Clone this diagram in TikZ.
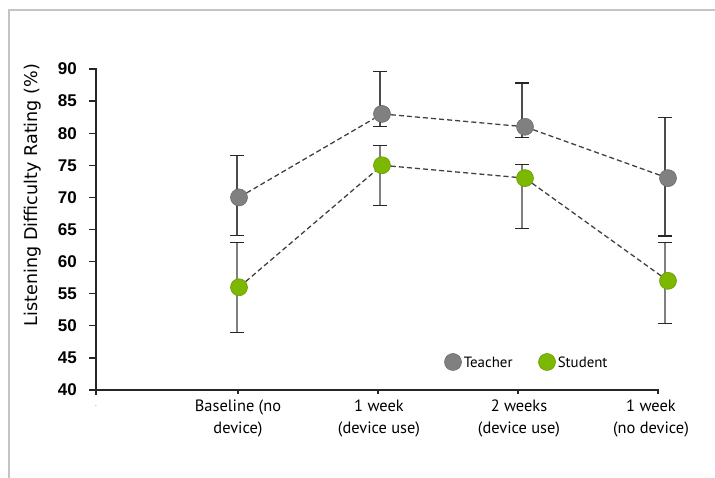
\documentclass[tikz,border=0pt]{standalone}
\usepackage{fontspec}
\setmainfont{PT Sans}
\newfontfamily\numfont{Liberation Sans}
\newfontfamily\labelfont{DejaVu Sans}
\usetikzlibrary{arrows.meta, positioning}

\definecolor{teachergray}{HTML}{808080}
\definecolor{studentgreen}{HTML}{7CB800}
\definecolor{framegray}{HTML}{C4C4C4}
\definecolor{dashgray}{HTML}{404040}

\begin{document}
\begin{tikzpicture}[
    x=0.03cm, y=0.03cm,
    axis/.style={line width=1.1pt, black!85},
    ticklbl/.style={anchor=east, inner sep=0pt, font=\numfont\bfseries\fontsize{14.5}{16}\selectfont},
    catlbl/.style={anchor=north, align=center, inner sep=0pt, font=\fontsize{14}{18.5}\selectfont},
    legtxt/.style={inner sep=0pt, font=\fontsize{12.7}{14}\selectfont},
    datapt/.style={circle, minimum size=0.51cm, inner sep=0pt, draw=#1!85!black, line width=0.5pt, fill=#1},
    errbar/.style={line width=1.3pt, {Bar[width=0.42cm, color=black!85, line width=1pt]}-{Bar[width=0.42cm, color=black!85, line width=1pt]}},
    link/.style={dashgray, line width=1.1pt, dash pattern=on 4.3pt off 2.6pt},
]
\useasboundingbox (0,0) rectangle (715,478);

% frame
\draw[framegray, line width=1.7pt] (9,0) -- (9,468) -- (715,468);

% y label
\node[rotate=90, inner sep=0pt, font=\labelfont\fontsize{15}{17}\selectfont] (ylab) at (33,283) {Listening Difficulty Rating (\%)};

% category labels
\node[gray, inner sep=0pt, font=\tiny] (c0) at (96,71) {-};
\node[catlbl] (c1) at (238,78) {Baseline (no\\device)};
\node[catlbl] (c2) at (379,78) {1 week\\(device use)};
\node[catlbl] (c3) at (519,78) {2 weeks\\(device use)};
\node[catlbl] (c4) at (651,78) {1 week\\(no device)};

\begin{scope}[shift={(0,-168.8)}, y=0.1926cm]
% axes
\draw[axis] (89,90) -- (96,90) -- (96,39.2);
\foreach \v in {40,45,...,85}
    \draw[axis] (89,\v) -- (96,\v);
\foreach \v in {40,45,...,90}
    \node[ticklbl] at (77,\v) {\v};
\draw[axis] (96,40) -- (658,40) -- (658,39.3);
\foreach \x in {238,378,518}
    \draw[axis] (\x,40) -- (\x,39.3);

% error bars
\draw[errbar, black!70] (237,64.0) -- (237,76.6);
\draw[errbar, black!70] (380,80.9) -- (380,89.7);
\draw[errbar, black!70] (522,79.3) -- (522,87.9);
\draw[errbar, black!70] (665,63.9) -- (665,82.5);
\draw[errbar, black!50] (237,48.9) -- (237,63.0);
\draw[errbar, black!50] (380,68.7) -- (380,78.2);
\draw[errbar, black!50] (522,65.0) -- (522,75.2);
\draw[errbar, black!50] (665,50.3) -- (665,63.1);

% teacher
\node[datapt=teachergray] (t1) at (239,70) {};
\node[datapt=teachergray] (t2) at (382,83) {};
\node[datapt=teachergray] (t3) at (525,81) {};
\node[datapt=teachergray] (t4) at (668,73) {};

% student
\node[datapt=studentgreen] (s1) at (239,56) {};
\node[datapt=studentgreen] (s2) at (382,75) {};
\node[datapt=studentgreen] (s3) at (525,73) {};
\node[datapt=studentgreen] (s4) at (668,57) {};

\draw[link] (t1) -- (t2) -- (t3) -- (t4);
\draw[link] (s1) -- (s2) -- (s3) -- (s4);
\end{scope}

% legend
\node[datapt=teachergray] (lt) at (453,116) {};
\node[legtxt, right=1.5pt of lt] (ltxt) {Teacher};
\node[datapt=studentgreen] (ls) at (547,116) {};
\node[legtxt, right=1.5pt of ls] (lstxt) {Student};

\end{tikzpicture}
\end{document}
